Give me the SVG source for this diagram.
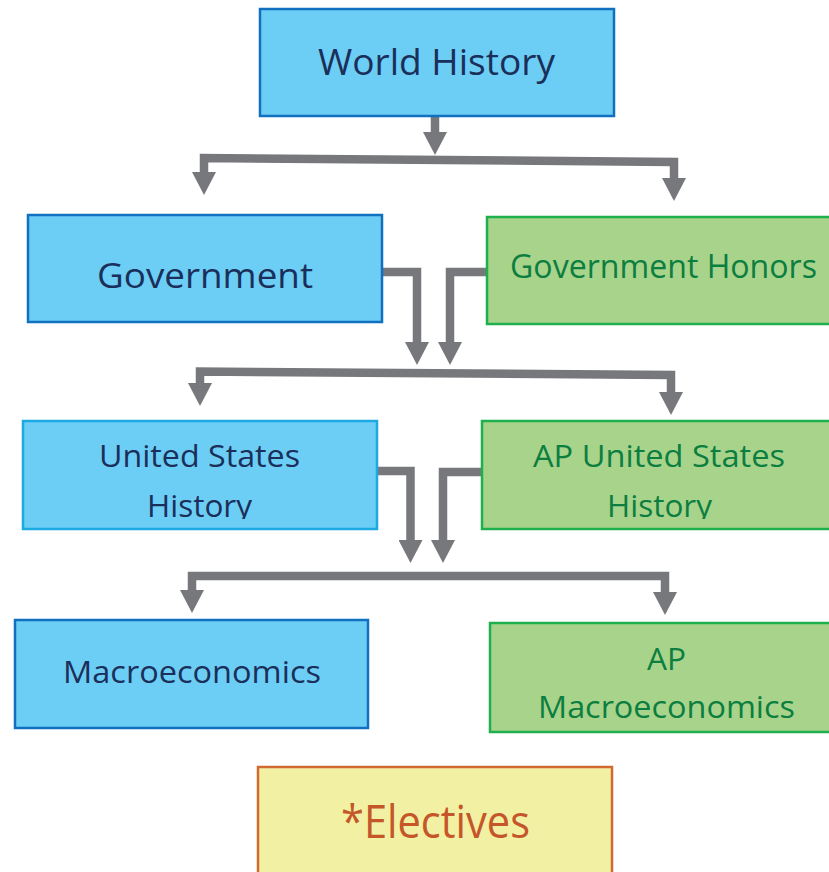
<svg xmlns="http://www.w3.org/2000/svg" width="829" height="872" viewBox="0 0 829 872">
<style>
.blue{fill:#6CCEF5;stroke:#1170C0;stroke-width:2.5}
.blue2{fill:#6CCEF5;stroke:#1DA9E2;stroke-width:2.5}
.green{fill:#A8D38B;stroke:#1DB04C;stroke-width:2.5}
.yellow{fill:#F2F1A3;stroke:#D06A30;stroke-width:2.5}
text{font-family:"Open Sans","Noto Sans","Liberation Sans",sans-serif;}
.tb{fill:#1B2F5B}
.tg{fill:#0B7E40}
.to{fill:#C5562A}
.conn{fill:none;stroke:#77787B;stroke-width:8.5;stroke-linejoin:miter;marker-end:url(#ah)}
.bar{fill:none;stroke:#77787B;stroke-width:8.5;stroke-linejoin:miter;marker-start:url(#ah);marker-end:url(#ah)}
</style>
<defs>
<marker id="ah" viewBox="0 0 23 24" markerWidth="23" markerHeight="24" refX="1" refY="12" markerUnits="userSpaceOnUse" orient="auto-start-reverse">
<path d="M0,0 L23,12 L0,24 Z" fill="#77787B"/>
</marker>
<clipPath id="clipH"><rect x="0" y="0" width="829" height="519"/></clipPath>
</defs>
<g id="connectors">
<path class="conn" d="M435,116 V133"/>
<path class="bar" d="M204,173 V158 L674,162 V179"/>
<path class="conn" d="M383,272 H417 V343"/>
<path class="conn" d="M488,272 H450 V343"/>
<path class="bar" d="M200,384 V371.5 L671,375 V393"/>
<path class="conn" d="M377,471 H410.5 V541"/>
<path class="conn" d="M482,472 H443 V541"/>
<path class="bar" d="M192,591 V576 H665 V593"/>
</g>
<g id="world-history">
<rect class="blue" x="260" y="9" width="354" height="107"/>
<text class="tb" x="318" y="75" font-size="36" textLength="237" lengthAdjust="spacingAndGlyphs">World History</text>
</g>
<g id="government">
<rect class="blue" x="28" y="215" width="354" height="107"/>
<text class="tb" x="97" y="288" font-size="35" textLength="216" lengthAdjust="spacingAndGlyphs">Government</text>
</g>
<g id="government-honors">
<rect class="green" x="487" y="217" width="350" height="107"/>
<text class="tg" x="510" y="278" font-size="32" textLength="307" lengthAdjust="spacingAndGlyphs">Government Honors</text>
</g>
<g id="us-history">
<rect class="blue2" x="23" y="421" width="354" height="108"/>
<text class="tb" x="99" y="467" font-size="31" textLength="201" lengthAdjust="spacingAndGlyphs">United States</text>
<text class="tb" x="147" y="517" font-size="31" textLength="105" lengthAdjust="spacingAndGlyphs" clip-path="url(#clipH)">History</text>
</g>
<g id="ap-us-history">
<rect class="green" x="482" y="421" width="360" height="108"/>
<text class="tg" x="533" y="467" font-size="31" textLength="252" lengthAdjust="spacingAndGlyphs">AP United States</text>
<text class="tg" x="607" y="517" font-size="31" textLength="105" lengthAdjust="spacingAndGlyphs" clip-path="url(#clipH)">History</text>
</g>
<g id="macroeconomics">
<rect class="blue" x="15" y="620" width="353" height="108"/>
<text class="tb" x="63" y="683" font-size="31" textLength="258" lengthAdjust="spacingAndGlyphs">Macroeconomics</text>
</g>
<g id="ap-macroeconomics">
<rect class="green" x="490" y="623" width="350" height="109"/>
<text class="tg" x="647" y="670" font-size="31" textLength="39" lengthAdjust="spacingAndGlyphs">AP</text>
<text class="tg" x="538" y="718" font-size="31" textLength="257" lengthAdjust="spacingAndGlyphs">Macroeconomics</text>
</g>
<g id="electives">
<rect class="yellow" x="258" y="767" width="354" height="120"/>
<text class="to" x="341" y="838" font-size="45" textLength="189" lengthAdjust="spacingAndGlyphs">*Electives</text>
</g>
</svg>
